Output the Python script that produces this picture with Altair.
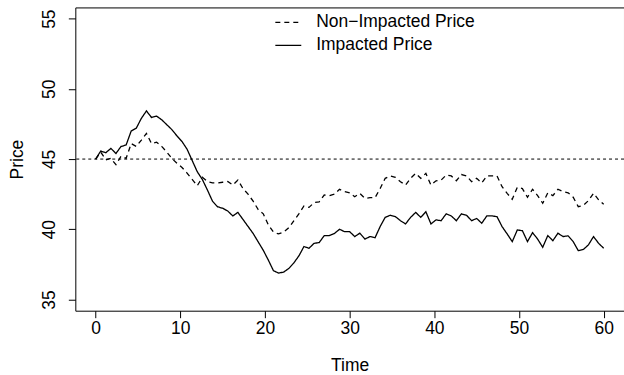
import altair as alt
import pandas as pd

# ---- data ----
time = [0.0, 0.6, 1.2, 1.8, 2.4, 3.0, 3.6, 4.2, 4.8, 5.4,
        6.0, 6.6, 7.2, 7.8, 8.4, 9.0, 9.6, 10.2, 10.8, 11.4,
        12.0, 12.6, 13.2, 13.8, 14.4, 15.0, 15.6, 16.2, 16.8, 17.4,
        18.0, 18.6, 19.2, 19.8, 20.4, 21.0, 21.6, 22.2, 22.8, 23.4,
        24.0, 24.6, 25.2, 25.8, 26.4, 27.0, 27.6, 28.2, 28.8, 29.4,
        30.0, 30.6, 31.2, 31.8, 32.4, 33.0, 33.6, 34.2, 34.8, 35.4,
        36.0, 36.6, 37.2, 37.8, 38.4, 39.0, 39.6, 40.2, 40.8, 41.4,
        42.0, 42.6, 43.2, 43.8, 44.4, 45.0, 45.6, 46.2, 46.8, 47.4,
        48.0, 48.6, 49.2, 49.8, 50.4, 51.0, 51.6, 52.2, 52.8, 53.4,
        54.0, 54.6, 55.2, 55.8, 56.4, 57.0, 57.6, 58.2, 58.8, 59.4,
        60.0]

non_impacted = [45.0, 45.5, 44.95, 45.05, 44.6, 45.2, 45.05, 46.1, 45.9, 46.35,
                46.83, 46.1, 46.2, 45.9, 45.5, 45.05, 44.7, 44.4, 44.0, 43.55,
                43.1, 43.7, 43.4, 43.3, 43.3, 43.35, 43.4, 43.15, 43.5, 42.9,
                42.5, 42.0, 41.4, 41.1, 40.3, 39.8, 39.67, 39.8, 40.1, 40.6,
                41.1, 41.66, 41.56, 41.9, 41.95, 42.44, 42.4, 42.5, 42.85, 42.68,
                42.6, 42.32, 42.55, 42.2, 42.25, 42.25, 42.9, 43.63, 43.8, 43.7,
                43.39, 43.15, 43.63, 43.98, 43.63, 43.98, 43.15, 43.45, 43.5, 43.86,
                43.8, 43.46, 43.9, 43.8, 43.39, 43.63, 43.3, 43.8, 43.8, 43.8,
                43.03, 42.56, 42.13, 42.99, 42.9, 42.28, 42.85, 42.4, 41.85, 42.6,
                42.4, 42.85, 42.68, 42.6, 42.28, 41.61, 41.7, 42.04, 42.56, 42.1,
                41.78]

impacted = [45.0, 45.57, 45.45, 45.76, 45.4, 45.9, 46.0, 47.0, 47.2, 47.9,
            48.43, 47.96, 48.06, 47.8, 47.45, 47.1, 46.65, 46.25, 45.7, 44.9,
            44.1, 43.55, 42.8, 42.0, 41.6, 41.5, 41.3, 40.95, 41.2, 40.7,
            40.2, 39.7, 39.1, 38.5, 37.8, 37.05, 36.88, 36.95, 37.2, 37.6,
            38.1, 38.77, 38.65, 39.0, 39.05, 39.55, 39.55, 39.7, 40.0, 39.83,
            39.83, 39.48, 39.72, 39.3, 39.48, 39.4, 40.19, 40.85, 41.0, 40.9,
            40.61, 40.38, 40.85, 41.2, 40.85, 41.25, 40.38, 40.67, 40.61, 41.1,
            40.95, 40.61, 41.1, 41.0, 40.61, 40.77, 40.43, 40.95, 40.95, 40.9,
            40.19, 39.67, 39.12, 39.95, 39.9, 39.12, 39.76, 39.3, 38.72, 39.55,
            39.19, 39.72, 39.48, 39.53, 39.12, 38.48, 38.56, 38.89, 39.48, 39.0,
            38.65]

series_names = ["Non\u2212Impacted Price", "Impacted Price"]
reference_level = [45]
x_ticks = [0, 10, 20, 30, 40, 50, 60]
y_ticks = [35, 40, 45, 50, 55]

df = pd.DataFrame({
    "Time": time + time,
    "Price": non_impacted + impacted,
    "Series": [series_names[0]] * len(time) + [series_names[1]] * len(time),
})
ref_df = pd.DataFrame({"Price": reference_level})

FONT = "Liberation Sans"
FS = 17.5

x_enc = alt.X(
    "Time:Q",
    scale=alt.Scale(domain=[-2.4, 62.4], nice=False, zero=False),
    axis=alt.Axis(
        values=x_ticks, title="Time", labelPadding=2, labelFlush=False,
        labelOverlap=False, titleX=275, titleY=60, titleAlign="center",
        titleBaseline="alphabetic",
    ),
)
y_scale = alt.Scale(domain=[34.2, 55.8], nice=False, zero=False)
y_enc = alt.Y(
    "Price:Q",
    scale=y_scale,
    axis=alt.Axis(
        values=y_ticks, title="Price", labelAngle=270, labelAlign="center",
        labelBaseline="alphabetic", labelPadding=14, labelOverlap=False,
        titleAngle=270, titleX=-52.5, titleY=152, titleAlign="center",
        titleBaseline="alphabetic",
    ),
)

lines = alt.Chart(df).mark_line(color="black", strokeWidth=1.3).encode(
    x=x_enc,
    y=y_enc,
    strokeDash=alt.StrokeDash(
        "Series:N",
        scale=alt.Scale(domain=series_names, range=[[5, 4], [1, 0]]),
        legend=alt.Legend(
            title=None, orient="none", legendX=199.5, legendY=1,
            symbolType="stroke", symbolSize=676, symbolStrokeWidth=1.3,
            symbolStrokeColor="black", labelFont=FONT, labelFontSize=FS,
            labelColor="black", labelOffset=14, rowPadding=-5,
        ),
    ),
)

ref_rule = alt.Chart(ref_df).mark_rule(
    color="black", strokeWidth=1, strokeDash=[3, 3]
).encode(y=alt.Y("Price:Q", scale=y_scale))

chart = (
    alt.layer(ref_rule, lines)
    .properties(
        width=550, height=304,
        autosize=alt.AutoSizeParams(type="none"),
        padding={"left": 75.5, "top": 7, "right": 0, "bottom": 64},
        background="white",
    )
    .configure_view(stroke="black", strokeWidth=1)
    .configure_axis(
        domain=False, grid=False, tickColor="black", tickSize=7, tickWidth=1,
        labelColor="black", titleColor="black", labelFont=FONT, titleFont=FONT,
        labelFontSize=FS, titleFontSize=FS, titleFontWeight="normal",
    )
)

chart.save("out.html", embed_options={"renderer": "svg", "actions": False})
